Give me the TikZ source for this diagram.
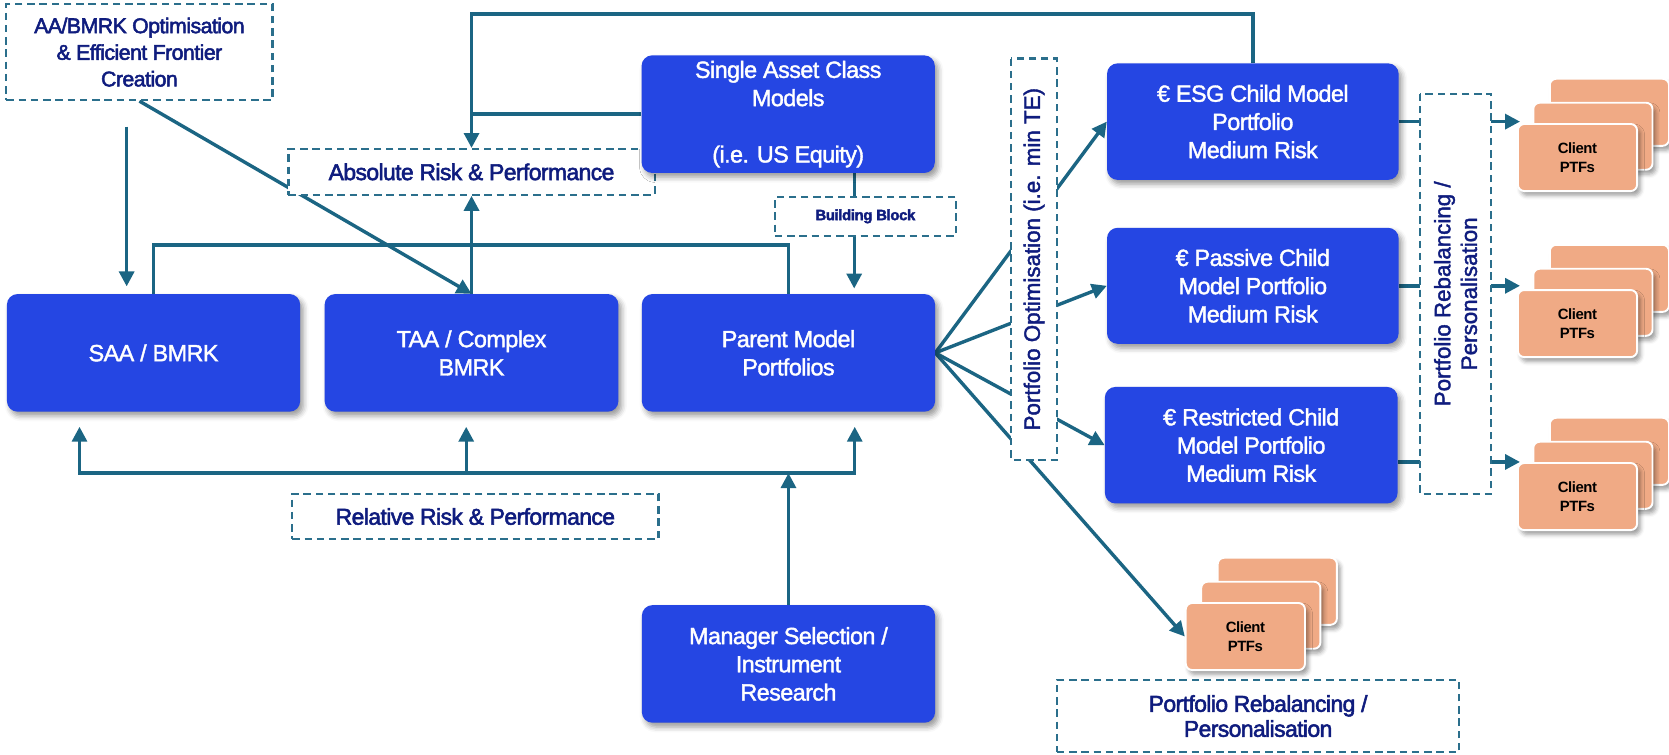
\documentclass[tikz,border=0pt]{standalone}
\usepackage{fontspec}
\setmainfont{Liberation Sans}
\newfontfamily\boxfont[LetterSpace=-2.5,FakeBold=1.6]{Liberation Sans}
\newfontfamily\notefont[LetterSpace=-2.5,FakeBold=2.4]{Liberation Sans}
\newfontfamily\sidefont[FakeBold=1.8]{Liberation Sans}
\newfontfamily\cardfont[LetterSpace=-3]{Liberation Sans}
\usetikzlibrary{arrows.meta,shadows.blur}

\definecolor{boxblue}{HTML}{2546E3}
\definecolor{navy}{HTML}{0F1C7E}
\definecolor{flowteal}{HTML}{1B6583}
\definecolor{dashteal}{HTML}{2B6F8C}
\definecolor{cardorange}{HTML}{F0AA85}

\pgfdeclarelayer{bg}
\pgfsetlayers{bg,main}

% stack of three client portfolio cards; #2,#3 = centre of the front card
\newcommand\ptfstack[3]{%
  \node[card] (#1b) at (#2+30,#3-42.5) {};
  \node[card] (#1m) at (#2+14.5,#3-20) {};
  \node[card, font=\cardfont\bfseries\fontsize{14}{18}\selectfont] (#1f) at (#2,#3) {Client\\PTFs};
}

\begin{document}
\begin{tikzpicture}[x=1pt,y=-1pt,
  bluebox/.style={rectangle, rounded corners=10pt, fill=boxblue, text=white,
    align=center, inner sep=0pt, minimum width=275.5pt, minimum height=110.5pt,
    font=\boxfont\fontsize{22}{26.5}\selectfont,
    blur shadow={shadow xshift=3pt, shadow yshift=-4pt, shadow blur radius=5pt, shadow opacity=40}},
  notebox/.style={rectangle, draw=dashteal, line width=2pt, dash pattern=on 7pt off 4.5pt,
    fill=white, text=navy, align=center, inner sep=0pt,
    font=\notefont\fontsize{21.5}{25}\selectfont},
  sidebox/.style={notebox, rotate=90, font=\sidefont\fontsize{21}{25}\selectfont},
  card/.style={rectangle, rounded corners=6pt, fill=cardorange, draw=white,
    line width=1.8pt, minimum width=112pt, minimum height=63pt, align=center,
    text=black, inner sep=0pt,
    blur shadow={shadow xshift=3pt, shadow yshift=-4pt, shadow blur radius=4pt, shadow opacity=40}},
  conn/.style={draw=flowteal, line width=3.2pt},
  arr/.style={conn, -{Triangle[length=14pt,width=14pt]}}]

\useasboundingbox (0,0) rectangle (1568,709);

% ---- annotation boxes (dashed) ----
\node[notebox, minimum width=250pt, minimum height=90pt,
  font=\notefont\fontsize{20}{25}\selectfont] (aa) at (131,49)
  {AA/BMRK Optimisation\\ \& Efficient Frontier\\Creation};
\node[notebox, minimum width=344pt, minimum height=43pt] (absolute) at (443,161.5)
  {Absolute Risk \& Performance};
\node[notebox, minimum width=344pt, minimum height=42.5pt] (relative) at (446.6,485.25)
  {Relative Risk \& Performance};
\node[notebox, minimum width=170pt, minimum height=36.5pt,
  font=\notefont\bfseries\fontsize{14}{17}\selectfont] (building) at (813,203.25)
  {Building Block};
\node[sidebox, minimum width=377pt, minimum height=43pt] (optim) at (971.5,243.5)
  {Portfolio Optimisation (i.e. min TE)};
\node[sidebox, minimum width=376pt, minimum height=67pt] (rebal) at (1367.5,276)
  {Portfolio Rebalancing /\\Personalisation};
\node[notebox, minimum width=378pt, minimum height=67.5pt,
  font=\notefont\fontsize{21.5}{23.5}\selectfont] (rebalb) at (1182,672.75)
  {Portfolio Rebalancing /\\Personalisation};

% ---- model boxes ----
\node[bluebox] (single) at (740.5,107.25) {Single Asset Class\\Models\\[26.5pt](i.e. US Equity)};
\node[bluebox] (saa) at (144.25,331.5) {SAA / BMRK};
\node[bluebox, minimum width=276pt] (taa) at (443,331.5) {TAA / Complex\\BMRK};
\node[bluebox] (parent) at (740.75,331.5) {Parent Model\\Portfolios};
\node[bluebox] (manager) at (740.75,623.75) {Manager Selection /\\Instrument\\Research};
\node[bluebox, minimum width=274pt, minimum height=109.5pt] (esg) at (1177,114.25)
  {€ ESG Child Model\\Portfolio\\Medium Risk};
\node[bluebox, minimum width=274pt, minimum height=109pt] (passive) at (1177,268.5)
  {€ Passive Child\\Model Portfolio\\Medium Risk};
\node[bluebox, minimum width=275pt, minimum height=109.5pt] (restricted) at (1175.5,418.25)
  {€ Restricted Child\\Model Portfolio\\Medium Risk};

% ---- client portfolio stacks ----
\ptfstack{ga}{1482}{148}
\ptfstack{gb}{1482}{304}
\ptfstack{gc}{1482}{466.5}
\ptfstack{gd}{1170}{598}

% ---- routing points ----
\coordinate (tl) at (443,13);
\coordinate (aadn) at (119,119);
\coordinate (midrow) at (0,230);
\coordinate (bbx) at (802.5,0);
\coordinate (b1) at (74.7,444.5);
\coordinate (b2) at (438,444.5);
\coordinate (b3) at (803,444.5);
\coordinate (tipx) at (1428,0);
\coordinate (rrow) at (0,434);

% ---- connectors ----
\begin{pgfonlayer}{bg}
  \draw[arr, shorten >=7pt] (aadn) -- (aadn |- saa.north);
  \draw[arr] (aa.south) -- (taa.north);
  \draw[arr] (esg.north) |- (tl) -- (absolute.north);
  \draw[conn] (single.west) -- (single.west -| tl);
  \draw[arr] (taa.north) -- (absolute.south);
  \draw[conn] (saa.north) |- (midrow -| parent.north) -- (parent.north);
  \draw[conn] (single.south -| bbx) -- (building.north -| bbx);
  \draw[arr, shorten >=5pt] (building.south -| bbx) -- (parent.north -| bbx);

  \draw[arr, shorten >=14pt] (b2) -| (b1 |- saa.south);
  \draw[arr, shorten >=14pt] (b2) -| (b3 |- parent.south);
  \draw[arr, shorten >=14pt] (b2) -- (b2 |- taa.south);
  \draw[arr] (manager.north) -- (manager.north |- b2);

  \draw[arr] (parent.east) -- (esg.west);
  \draw[arr] (parent.east) -- (passive.west);
  \draw[arr] (parent.east) -- (restricted.west);
  \draw[arr] (parent.east) -- (gdf.west);

  \draw[arr] (esg.east) -- (esg.east -| tipx);
  \draw[arr] (passive.east) -- (passive.east -| tipx);
  \draw[arr] (restricted.east |- rrow) -- (rrow -| tipx);
\end{pgfonlayer}
\end{tikzpicture}
\end{document}
